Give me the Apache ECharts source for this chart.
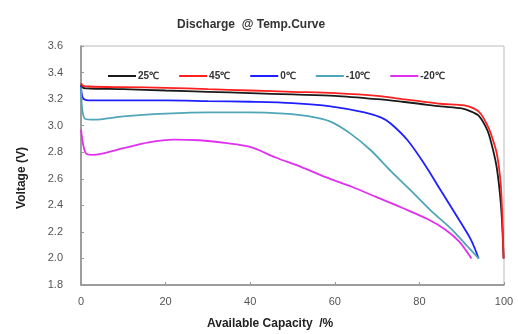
<!DOCTYPE html>
<html>
<head>
<meta charset="utf-8">
<script src="https://cdn.jsdelivr.net/npm/echarts@6/dist/echarts.min.js"></script>
<style>
html,body{margin:0;padding:0;background:#fff;}
#main{width:518px;height:334px;}
</style>
</head>
<body>
<div id="main"></div>
<script>
// capacity (%) / voltage (V) per temperature
var cap25 = [0, 0.5, 2, 10, 20, 30, 40, 50, 60, 70, 76, 80, 85, 90, 92, 94, 96, 97, 98.2, 99, 99.5, 99.9];
var volt25 = [3.31, 3.285, 3.28, 3.275, 3.265, 3.255, 3.245, 3.235, 3.225, 3.20, 3.18, 3.165, 3.145, 3.13, 3.11, 3.075, 2.97, 2.87, 2.70, 2.50, 2.30, 2.00];
var cap45 = [0, 0.5, 2, 10, 20, 30, 40, 50, 60, 70, 76, 80, 85, 90.6, 93, 94.5, 96.1, 97, 98.3, 99.2, 99.6, 99.9];
var volt45 = [3.32, 3.30, 3.295, 3.29, 3.285, 3.275, 3.265, 3.255, 3.245, 3.225, 3.20, 3.185, 3.165, 3.153, 3.128, 3.09, 3.00, 2.93, 2.79, 2.57, 2.32, 2.00];
var cap0 = [0, 0.3, 1, 3, 10, 20, 30, 40, 50, 59, 67, 71, 73.2, 77.2, 81.1, 85.1, 89, 92.2, 94];
var volt0 = [3.30, 3.22, 3.195, 3.19, 3.19, 3.19, 3.185, 3.18, 3.17, 3.146, 3.10, 3.06, 3.016, 2.89, 2.715, 2.51, 2.31, 2.14, 2.00];
var capM10 = [0, 0.3, 1, 3, 10, 20, 30, 40, 48, 54, 59, 63.7, 68.5, 73.2, 78, 82.7, 87.4, 91.4, 94];
var voltM10 = [3.29, 3.12, 3.05, 3.045, 3.07, 3.09, 3.10, 3.10, 3.09, 3.07, 3.03, 2.94, 2.815, 2.66, 2.51, 2.36, 2.226, 2.09, 2.00];
var capM20 = [0, 0.5, 1.2, 2.5, 5, 10, 16, 22, 28, 34, 40, 46, 52, 58, 64, 70, 76, 82, 86, 89.3, 92.3];
var voltM20 = [2.97, 2.86, 2.79, 2.78, 2.79, 2.83, 2.875, 2.895, 2.89, 2.87, 2.84, 2.76, 2.69, 2.61, 2.54, 2.46, 2.38, 2.295, 2.22, 2.13, 2.00];

var names = ['25℃', '45℃', '0℃', '-10℃', '-20℃'];
var colors = ['#1a1a1a', '#ff2020', '#2020ff', '#4fa6b8', '#e030f0'];
var caps = [cap25, cap45, cap0, capM10, capM20];
var volts = [volt25, volt45, volt0, voltM10, voltM20];

var fontName = 'Liberation Sans';
var series = [];
for (var i = 0; i < names.length; i++) {
	var d = [];
	for (var j = 0; j < caps[i].length; j++) {
		d.push([caps[i][j], volts[i][j]]);
	}
	series.push({
		name: names[i],
		type: 'line',
		data: d,
		smooth: 0.3,
		symbol: 'none',
		lineStyle: { width: 1.8, color: colors[i] },
		itemStyle: { color: colors[i] }
	});
}

var myChart = echarts.init(document.getElementById('main'));
var option = {
	animation: false,
	color: colors,
	title: {
		text: 'Discharge  @ Temp.Curve',
		left: 172,
		top: 14,
		textStyle: { fontFamily: fontName, fontSize: 12, fontWeight: 'bold', color: '#333' }
	},
	legend: {
		top: 66,
		left: 103,
		icon: 'rect',
		itemWidth: 28,
		itemHeight: 2,
		itemGap: 20,
		data: names,
		textStyle: { fontFamily: fontName, fontSize: 10, fontWeight: 'bold', color: '#333', padding: [0, 0, 0, -3] }
	},
	grid: {
		left: 81, right: 14, top: 46, bottom: 49,
		show: true,
		borderColor: '#bbb',
		borderWidth: 1
	},
	xAxis: {
		type: 'value',
		min: 0, max: 100, interval: 20,
		axisLine: { lineStyle: { color: '#888', width: 1.5 } },
		axisTick: { inside: true, length: 3, lineStyle: { color: '#999' } },
		axisLabel: { fontFamily: fontName, fontSize: 11, color: '#555', margin: 11 },
		splitLine: { show: false }
	},
	yAxis: {
		type: 'value',
		min: 1.8, max: 3.6, interval: 0.2,
		axisLine: { show: true, lineStyle: { color: '#888', width: 1.5 } },
		axisTick: { show: true, inside: true, length: 3, lineStyle: { color: '#999' } },
		axisLabel: { fontFamily: fontName, fontSize: 11, color: '#555', margin: 18,
			formatter: function (v) { return v.toFixed(1); } },
		splitLine: { show: false }
	},
	graphic: [
		{ type: 'text', left: 207, top: 318,
		  style: { text: 'Available Capacity  /%', font: 'bold 12px "Liberation Sans"', fill: '#222' } },
		{ type: 'text', x: 22, y: 178, rotation: Math.PI / 2,
		  style: { text: 'Voltage (V)', font: 'bold 12px "Liberation Sans"', fill: '#222', align: 'center', verticalAlign: 'middle' } }
	],
	series: series
};
myChart.setOption(option);
</script>
</body>
</html>
